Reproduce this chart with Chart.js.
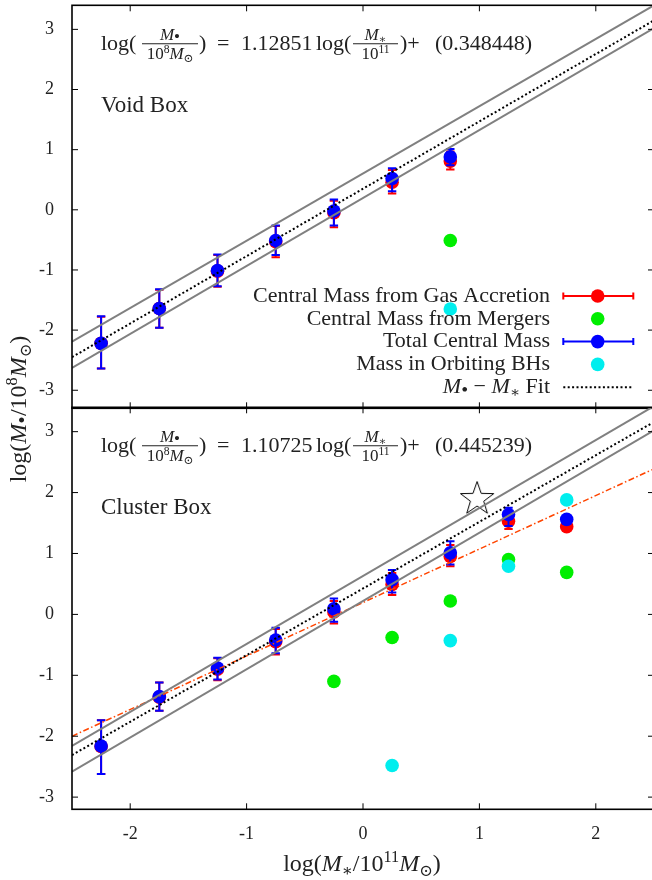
<!DOCTYPE html>
<html><head><meta charset="utf-8">
<script src="https://cdn.jsdelivr.net/npm/chart.js@4.4.0/dist/chart.umd.min.js"></script>
<style>
html,body{margin:0;padding:0;background:#fff;overflow:hidden;width:652px;height:880px;}
canvas{position:absolute;left:0;top:0;}
</style></head><body>
<canvas id="cTop" width="660" height="880" style="width:660px;height:880px"></canvas>
<canvas id="cBot" width="660" height="880" style="width:660px;height:880px"></canvas>
<script>
// ---------- data ----------
const xTicks = [-2, -1, 0, 1, 2];
const yTicks = [-3, -2, -1, 0, 1, 2, 3];
const lineX = [-2.5, 2.5];

// Void box
const voidX = [-2.25, -1.75, -1.25, -0.75, -0.25, 0.25, 0.75];
const voidGas = [-2.22, -1.64, -1.02, -0.53, -0.05, 0.46, 0.81];
const voidGasLow = [-2.64, -1.96, -1.28, -0.79, -0.29, 0.27, 0.67];
const voidGasHigh = [-1.78, -1.33, -0.75, -0.27, 0.15, 0.66, 0.97];
const voidTotal = [-2.22, -1.64, -1.01, -0.51, -0.02, 0.52, 0.88];
const voidTotalLow = [-2.64, -1.96, -1.27, -0.75, -0.26, 0.31, 0.74];
const voidTotalHigh = [-1.77, -1.32, -0.745, -0.26, 0.17, 0.69, 1.01];
const voidMergX = [0.75];
const voidMerg = [-0.51];
const voidOrbX = [0.75];
const voidOrb = [-1.65];
const voidFitY = [-2.45, 3.15];
const voidUpperY = [-2.19, 3.40];
const voidLowerY = [-2.63, 3.02];

// Cluster box
const clusX = [-2.25, -1.75, -1.25, -0.75, -0.25, 0.25, 0.75, 1.25, 1.75];
const clusGas = [-2.17, -1.36, -0.90, -0.45, 0.04, 0.49, 0.95, 1.53, 1.44];
const clusGasLow = [-2.62, -1.58, -1.08, -0.66, -0.15, 0.32, 0.79, 1.40, null];
const clusGasHigh = [-1.74, -1.12, -0.72, -0.24, 0.22, 0.68, 1.14, 1.68, null];
const clusTotal = [-2.16, -1.35, -0.88, -0.42, 0.09, 0.57, 1.01, 1.64, 1.56];
const clusTotalLow = [-2.62, -1.58, -1.07, -0.64, -0.12, 0.36, 0.82, 1.45, null];
const clusTotalHigh = [-1.74, -1.12, -0.71, -0.22, 0.26, 0.73, 1.20, 1.75, null];
const clusMergX = [-0.25, 0.25, 0.75, 1.25, 1.75];
const clusMerg = [-1.10, -0.38, 0.22, 0.90, 0.69];
const clusOrbX = [0.25, 0.75, 1.25, 1.75];
const clusOrb = [-2.48, -0.43, 0.79, 1.88];
const starX = [0.98];
const starY = [1.91];
const clusFitY = [-2.31, 3.16];
const clusUpperY = [-2.16, 3.42];
const clusLowerY = [-2.58, 3.02];
const clusAltY = [-2.00, 2.39];

const labels = ['Central Mass from Gas Accretion', 'Central Mass from Mergers', 'Total Central Mass', 'Mass in Orbiting BHs'];

// ---------- styling helpers ----------
const SERIF = '"Liberation Serif","DejaVu Serif",serif';
const TXT = '#222';
const RED = '#ff0000', GREEN = '#00ee00', BLUE = '#0000ff', CYAN = '#00eeee', GRAY = '#808080', ORANGE = '#ff4500';

function pts(xs, ys) { return xs.map((x, i) => ({ x: x, y: ys[i] })); }
function lineDs(ys, color, width, dash) {
  return { data: pts(lineX, ys), showLine: true, borderColor: color, borderWidth: width, borderDash: dash || [], pointRadius: 0, fill: false };
}
function ptDs(label, xs, ys, color, low, high) {
  return { label: label, data: pts(xs, ys), backgroundColor: color, borderColor: color, borderWidth: 0, pointRadius: 6.8, pointHoverRadius: 6.8, errLow: low, errHigh: high };
}

// rich text: segment {t, i: italic, s: 'sub'|'sup', k: size factor, d: extra dy factor}
function segSize(g, size) { return g.k ? size * g.k : (g.s ? size * 0.68 : size); }
function segFont(g, size) { return (g.i ? 'italic ' : '') + segSize(g, size).toFixed(1) + 'px ' + SERIF; }
function segDy(g, size) { let d = g.s === 'sub' ? size * 0.2 : g.s === 'sup' ? -size * 0.38 : 0; if (g.d) d += size * g.d; return d; }
function richWidth(ctx, segs, size) { let w = 0; for (const g of segs) { ctx.font = segFont(g, size); w += ctx.measureText(g.t).width; } return w; }
function drawRich(ctx, segs, x, y, size) {
  ctx.textBaseline = 'alphabetic'; ctx.textAlign = 'left';
  for (const g of segs) { ctx.font = segFont(g, size); ctx.fillText(g.t, x, y + segDy(g, size)); x += ctx.measureText(g.t).width; }
  return x;
}
const BULLET = { t: '•', k: 1.0, d: 0.12 };
const SUN = { t: '⊙', s: 'sub' };
const STAR_SUB = { t: '∗', s: 'sub' };

function drawFrac(ctx, num, den, x, w, y, size) {
  const wn = richWidth(ctx, num, size), wd = richWidth(ctx, den, size);
  const bar = y - 6.3;
  drawRich(ctx, num, x + (w - wn) / 2, bar - 3.7, size);
  drawRich(ctx, den, x + (w - wd) / 2, bar + 15.3, size);
  ctx.save(); ctx.strokeStyle = TXT; ctx.lineWidth = 1.1; ctx.beginPath(); ctx.moveTo(x, bar); ctx.lineTo(x + w, bar); ctx.stroke(); ctx.restore();
}
function drawEquation(ctx, y, slope, icpt) {
  ctx.fillStyle = TXT;
  const S = 22, F = 17;
  drawRich(ctx, [{ t: 'log(' }], 101, y, S);
  drawFrac(ctx, [{ t: 'M', i: 1 }, BULLET], [{ t: '10' }, { t: '8', s: 'sup' }, { t: 'M', i: 1 }, SUN], 142, 56, y, F);
  drawRich(ctx, [{ t: ')' }], 199, y, S);
  drawRich(ctx, [{ t: '=' }], 217, y, S);
  drawRich(ctx, [{ t: slope }], 241, y, S);
  drawRich(ctx, [{ t: 'log(' }], 316, y, S);
  drawFrac(ctx, [{ t: 'M', i: 1 }, STAR_SUB], [{ t: '10' }, { t: '11', s: 'sup' }], 353, 45, y, F);
  drawRich(ctx, [{ t: ')+' }], 400, y, S);
  drawRich(ctx, [{ t: '(' + icpt + ')' }], 435, y, S);
}

function starImage() {
  const c = document.createElement('canvas'); c.width = 38; c.height = 38;
  const g = c.getContext('2d'); g.strokeStyle = '#000'; g.lineWidth = 1;
  g.beginPath();
  for (let k = 0; k < 10; k++) {
    const r = k % 2 === 0 ? 17.5 : 7;
    const a = -Math.PI / 2 + k * Math.PI / 5;
    const px = 19 + r * Math.cos(a), py = 20 + r * Math.sin(a);
    if (k === 0) g.moveTo(px, py); else g.lineTo(px, py);
  }
  g.closePath(); g.stroke();
  return c;
}

// ---------- plugins ----------
const framePlugin = {
  id: 'frame',
  afterDatasetsDraw(chart) {
    const { ctx, chartArea: a, scales: { x, y } } = chart;
    ctx.save(); ctx.strokeStyle = '#000'; ctx.lineWidth = 1;
    ctx.beginPath();
    for (const v of xTicks) { const px = x.getPixelForValue(v); ctx.moveTo(px, a.bottom); ctx.lineTo(px, a.bottom - 6); ctx.moveTo(px, a.top); ctx.lineTo(px, a.top + 6); }
    for (const v of yTicks) { const py = y.getPixelForValue(v); ctx.moveTo(a.left, py); ctx.lineTo(a.left + 6, py); ctx.moveTo(a.right, py); ctx.lineTo(a.right - 6, py); }
    ctx.stroke();
    ctx.lineWidth = 1.6; ctx.strokeRect(a.left, a.top, a.right - a.left, a.bottom - a.top);
    ctx.restore();
  }
};
const errPlugin = {
  id: 'errbars',
  beforeDatasetDraw(chart, args) {
    const ds = chart.data.datasets[args.index];
    if (!ds.errLow) return;
    const { ctx, scales: { x, y } } = chart;
    ctx.save(); ctx.strokeStyle = ds.borderColor; ctx.lineWidth = 2; ctx.beginPath();
    ds.data.forEach((p, i) => {
      const lo = ds.errLow[i], hi = ds.errHigh[i];
      if (lo == null || hi == null) return;
      const px = x.getPixelForValue(p.x), pl = y.getPixelForValue(lo), ph = y.getPixelForValue(hi);
      ctx.moveTo(px, pl); ctx.lineTo(px, ph);
      ctx.moveTo(px - 4.2, pl); ctx.lineTo(px + 4.2, pl);
      ctx.moveTo(px - 4.2, ph); ctx.lineTo(px + 4.2, ph);
    });
    ctx.stroke(); ctx.restore();
  }
};

function textPlugin(eqSlope, eqIcpt, boxName) {
  return {
    id: 'texts',
    afterDraw(chart) {
      const { ctx, chartArea: a } = chart;
      ctx.save();
      drawEquation(ctx, a.top + 44.7, eqSlope, eqIcpt);
      ctx.fillStyle = TXT; ctx.font = '23px ' + SERIF; ctx.textAlign = 'left'; ctx.textBaseline = 'alphabetic';
      ctx.fillText(boxName, 101, a.top + 106.7);
      ctx.restore();
    }
  };
}

const legendPlugin = {
  id: 'customLegend',
  afterDraw(chart) {
    const ctx = chart.ctx;
    const rows = [
      { label: labels[0], color: RED, err: true },
      { label: labels[1], color: GREEN },
      { label: labels[2], color: BLUE, err: true },
      { label: labels[3], color: CYAN },
    ];
    const textRight = 550, symL = 563.3, symR = 633.3, symC = 597.7;
    ctx.save();
    rows.forEach((r, k) => {
      const base = 301.7 + k * 22.8, mid = base - 5.7;
      ctx.fillStyle = TXT; ctx.font = '22px ' + SERIF; ctx.textAlign = 'right'; ctx.textBaseline = 'alphabetic';
      ctx.fillText(r.label, textRight, base);
      if (r.err) {
        ctx.strokeStyle = r.color; ctx.lineWidth = 2; ctx.beginPath();
        ctx.moveTo(symL, mid); ctx.lineTo(symR, mid);
        ctx.moveTo(symL, mid - 3.5); ctx.lineTo(symL, mid + 3.5);
        ctx.moveTo(symR, mid - 3.5); ctx.lineTo(symR, mid + 3.5);
        ctx.stroke();
      }
      ctx.fillStyle = r.color; ctx.beginPath(); ctx.arc(symC, mid, 6.8, 0, Math.PI * 2); ctx.fill();
    });
    const base = 301.7 + 4 * 22.8, mid = base - 5.7;
    const segs = [{ t: 'M', i: 1 }, { t: '•', k: 0.9, d: 0.12 }, { t: ' − ' }, { t: 'M', i: 1 }, STAR_SUB, { t: ' Fit' }];
    ctx.fillStyle = TXT;
    const w = richWidth(ctx, segs, 22);
    drawRich(ctx, segs, textRight - w, base, 22);
    ctx.strokeStyle = '#000'; ctx.lineWidth = 2; ctx.setLineDash([2, 2.4]);
    ctx.beginPath(); ctx.moveTo(symL, mid); ctx.lineTo(symR, mid); ctx.stroke();
    ctx.restore();
  }
};

const axisTitlePlugin = {
  id: 'axisTitles',
  afterDraw(chart) {
    const ctx = chart.ctx;
    ctx.save(); ctx.fillStyle = TXT;
    const ySegs = [{ t: 'log(' }, { t: 'M', i: 1 }, { t: '•', k: 0.9, d: 0.12 }, { t: '/10' }, { t: '8', s: 'sup' }, { t: 'M', i: 1 }, SUN, { t: ')' }];
    const wy = richWidth(ctx, ySegs, 24);
    ctx.translate(26, 409); ctx.rotate(-Math.PI / 2);
    drawRich(ctx, ySegs, -wy / 2, 0, 24);
    ctx.restore();
    ctx.save(); ctx.fillStyle = TXT;
    const xSegs = [{ t: 'log(' }, { t: 'M', i: 1 }, STAR_SUB, { t: '/10' }, { t: '11', s: 'sup' }, { t: 'M', i: 1 }, SUN, { t: ')' }];
    const wx = richWidth(ctx, xSegs, 24);
    drawRich(ctx, xSegs, 362 - wx / 2, 871, 24);
    ctx.restore();
  }
};

function scalesFor(ymin, ymax, showX) {
  return {
    x: {
      type: 'linear', min: -2.5, max: 2.5, display: showX,
      afterBuildTicks: s => { s.ticks = xTicks.map(v => ({ value: v })); },
      afterFit: s => { s.height = showX ? 70.7 : 0; s.paddingLeft = 0; s.paddingRight = 0; s.paddingTop = 0; s.paddingBottom = 0; },
      grid: { display: false, drawTicks: false }, border: { display: false },
      ticks: { padding: 14, color: TXT, font: { family: SERIF, size: 18 }, callback: v => String(v), maxRotation: 0 }
    },
    y: {
      type: 'linear', min: ymin, max: ymax,
      afterBuildTicks: s => { s.ticks = yTicks.map(v => ({ value: v })); },
      afterFit: s => { s.width = 72; s.paddingLeft = 0; s.paddingRight = 0; s.paddingTop = 0; s.paddingBottom = 0; },
      grid: { display: false, drawTicks: false }, border: { display: false },
      ticks: { padding: 18, color: TXT, font: { family: SERIF, size: 18 }, callback: v => String(v) }
    }
  };
}

const common = {
  responsive: false, animation: false, events: [],
  plugins: { legend: { display: false }, tooltip: { enabled: false } }
};

new Chart(document.getElementById('cTop'), {
  type: 'scatter',
  data: {
    datasets: [
      lineDs(voidUpperY, GRAY, 2),
      lineDs(voidLowerY, GRAY, 2),
      lineDs(voidFitY, '#000', 2, [2, 2.4]),
      ptDs(labels[3], voidOrbX, voidOrb, CYAN),
      ptDs(labels[2], voidX, voidTotal, BLUE, voidTotalLow, voidTotalHigh),
      ptDs(labels[1], voidMergX, voidMerg, GREEN),
      ptDs(labels[0], voidX, voidGas, RED, voidGasLow, voidGasHigh)
    ]
  },
  options: Object.assign({}, common, {
    layout: { autoPadding: false, padding: { left: 0, right: 6, top: 5.3, bottom: 471.7 } },
    scales: scalesFor(-3.3, 3.4, false)
  }),
  plugins: [errPlugin, framePlugin, textPlugin('1.12851', '0.348448', 'Void Box'), legendPlugin]
});

new Chart(document.getElementById('cBot'), {
  type: 'scatter',
  data: {
    datasets: [
      lineDs(clusUpperY, GRAY, 2),
      lineDs(clusLowerY, GRAY, 2),
      lineDs(clusFitY, '#000', 2, [2, 2.4]),
      lineDs(clusAltY, ORANGE, 1.5, [6, 2.5, 1.5, 2.5]),
      { data: pts(starX, starY), pointStyle: starImage(), pointRadius: 17, borderWidth: 0 },
      ptDs(labels[3], clusOrbX, clusOrb, CYAN),
      ptDs(labels[2], clusX, clusTotal, BLUE, clusTotalLow, clusTotalHigh),
      ptDs(labels[1], clusMergX, clusMerg, GREEN),
      ptDs(labels[0], clusX, clusGas, RED, clusGasLow, clusGasHigh)
    ]
  },
  options: Object.assign({}, common, {
    layout: { autoPadding: false, padding: { left: 0, right: 6, top: 407.3, bottom: 0 } },
    scales: scalesFor(-3.2, 3.4, true)
  }),
  plugins: [errPlugin, framePlugin, textPlugin('1.10725', '0.445239', 'Cluster Box'), axisTitlePlugin]
});
</script>
</body></html>
